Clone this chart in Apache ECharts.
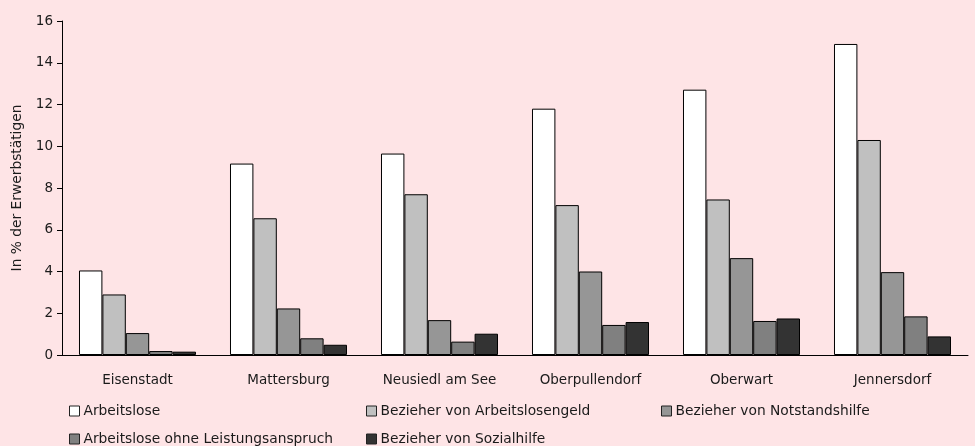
<!DOCTYPE html>
<html style="height: 100%">
<head>
    <meta charset="utf-8">
</head>
<body style="height: 100%; margin: 0; background: #fee4e6">
<div id="container" style="width: 975px; height: 446px"></div>

<script type="text/javascript" src="https://cdn.jsdelivr.net/npm/echarts@6/dist/echarts.min.js"></script>
<script type="text/javascript">
    var categories = ['Eisenstadt', 'Mattersburg', 'Neusiedl am See', 'Oberpullendorf', 'Oberwart', 'Jennersdorf'];
    var seriesNames = ['Arbeitslose', 'Bezieher von Arbeitslosengeld', 'Bezieher von Notstandshilfe',
        'Arbeitslose ohne Leistungsanspruch', 'Bezieher von Sozialhilfe'];
    var arbeitslose = [4.05, 9.17, 9.65, 11.8, 12.71, 14.9];
    var arbeitslosengeld = [2.9, 6.55, 7.7, 7.18, 7.45, 10.3];
    var notstandshilfe = [1.05, 2.23, 1.67, 4.0, 4.64, 3.97];
    var ohneAnspruch = [0.19, 0.8, 0.64, 1.44, 1.63, 1.85];
    var sozialhilfe = [0.16, 0.49, 1.02, 1.58, 1.75, 0.89];
    var yTicks = [0, 2, 4, 6, 8, 10, 12, 14, 16];

    var colors = ['#ffffff', '#c0c0c0', '#969696', '#808080', '#333333'];
    var allData = [arbeitslose, arbeitslosengeld, notstandshilfe, ohneAnspruch, sozialhilfe];
    var font = '"DejaVu Sans", sans-serif';

    var dom = document.getElementById("container");
    var myChart = echarts.init(dom);

    var series = [];
    for (let i = 0; i < seriesNames.length; i++) {
        series.push({
            name: seriesNames[i],
            type: 'bar',
            barGap: 0,
            barCategoryGap: '22.5%',
            itemStyle: {
                color: colors[i],
                borderColor: '#000',
                borderWidth: 1
            },
            data: allData[i]
        });
    }

    // one legend per item so they sit where the original puts them
    var legendPos = [[69, 404], [366, 404], [661, 404], [69, 432], [366, 432]];
    var legends = [];
    for (let i = 0; i < seriesNames.length; i++) {
        legends.push({
            data: [seriesNames[i]],
            left: legendPos[i][0],
            top: legendPos[i][1],
            padding: 0,
            icon: 'rect',
            itemWidth: 10,
            itemHeight: 10,
            itemStyle: {borderColor: '#222', borderWidth: 1},
            textStyle: {fontFamily: font, fontSize: 13.8, color: '#1a1a1a', padding: [0, 0, 0, -1]}
        });
    }

    var option = {
        backgroundColor: '#fee4e6',
        animation: false,
        grid: {left: 62, right: 7, top: 21, bottom: 91},
        legend: legends,
        xAxis: {
            type: 'category',
            data: categories,
            axisLine: {lineStyle: {color: '#000', width: 1}},
            axisTick: {length: 5, lineStyle: {color: '#000'}},
            axisLabel: {fontFamily: font, fontSize: 13.5, color: '#1a1a1a', margin: 18}
        },
        yAxis: {
            type: 'value',
            min: yTicks[0],
            max: yTicks[yTicks.length - 1],
            interval: 2,
            name: 'In % der Erwerbstätigen',
            nameLocation: 'middle',
            nameGap: 38,
            nameTextStyle: {fontFamily: font, fontSize: 13.8, color: '#1a1a1a'},
            axisLine: {show: true, lineStyle: {color: '#000', width: 1}},
            axisTick: {show: true, length: 5, lineStyle: {color: '#000'}},
            axisLabel: {fontFamily: font, fontSize: 13.5, color: '#1a1a1a', margin: 9},
            splitLine: {show: false}
        },
        series: series
    };

    myChart.setOption(option);
</script>
</body>
</html>
